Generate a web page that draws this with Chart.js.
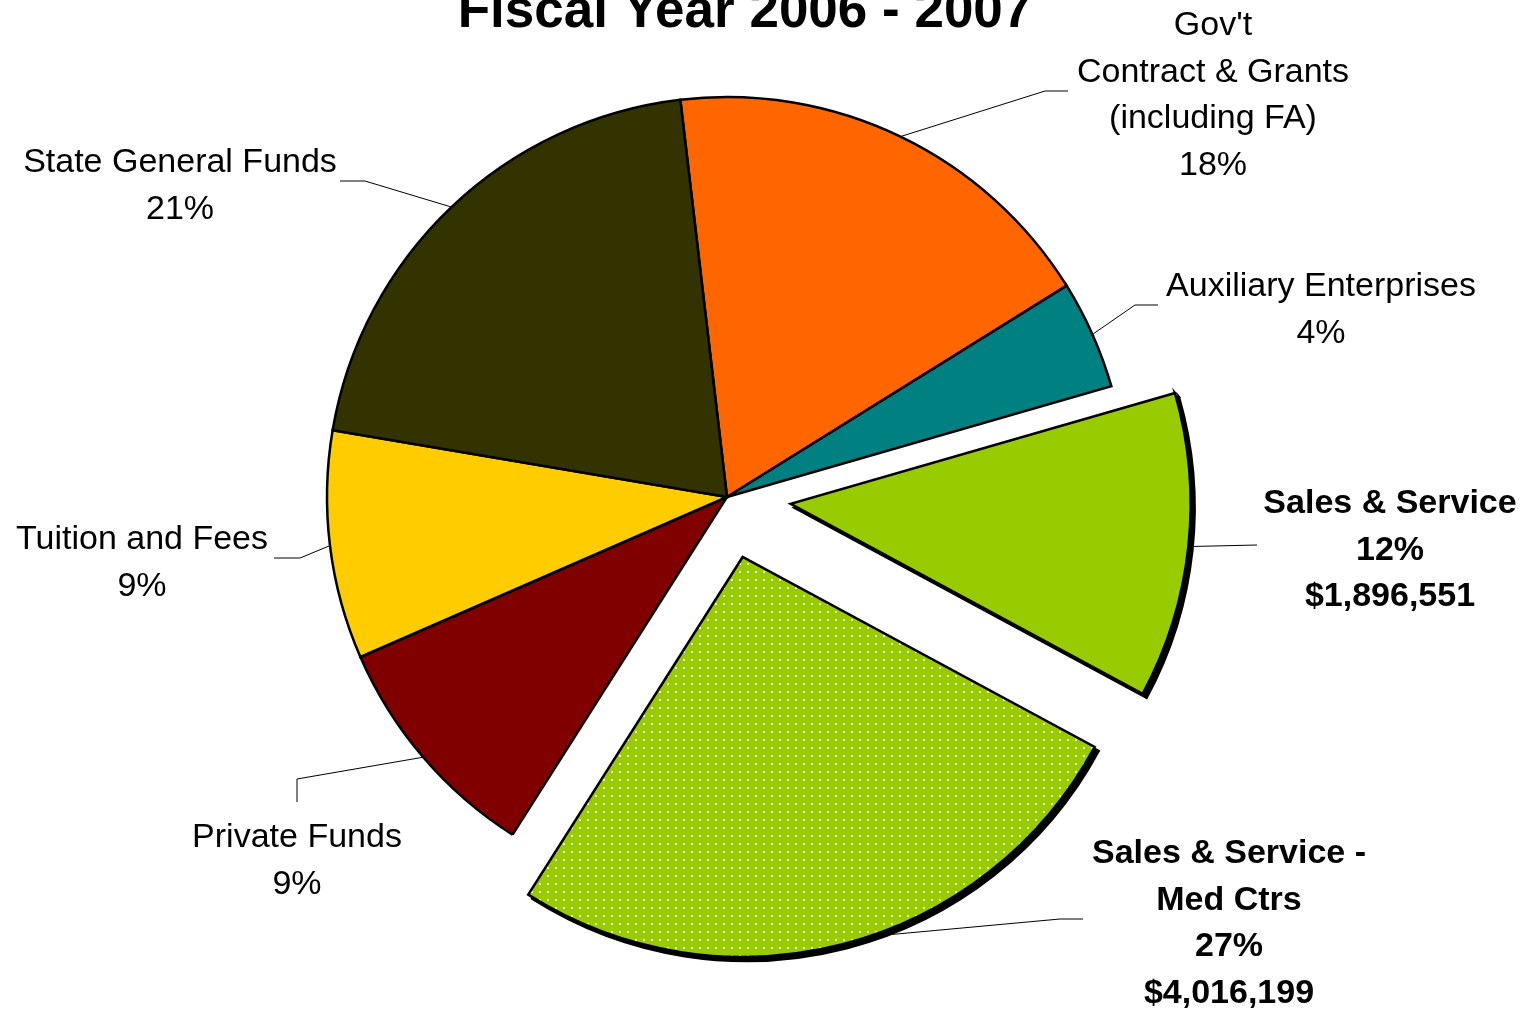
<!DOCTYPE html>
<html>
<head>
<meta charset="utf-8">
<title>Fiscal Year 2006 - 2007</title>
<script src="https://cdn.jsdelivr.net/npm/chart.js@4.4.0/dist/chart.umd.min.js"></script>
<style>
  html, body { margin: 0; padding: 0; background: #ffffff; overflow: hidden; }
  #wrap { position: relative; width: 1532px; height: 1011px; }
</style>
</head>
<body>
<div id="wrap"><canvas id="chart" width="1532" height="1011"></canvas></div>
<script>
// ---- Revenue sources, clockwise from the top ----
const categories = [
  "Gov't Contract & Grants (including FA)",
  "Auxiliary Enterprises",
  "Sales & Service",
  "Sales & Service - Med Ctrs",
  "Private Funds",
  "Tuition and Fees",
  "State General Funds"
];
const labelLines = [
  ["Gov't", "Contract & Grants", "(including FA)"],
  ["Auxiliary Enterprises"],
  ["Sales & Service"],
  ["Sales & Service -", "Med Ctrs"],
  ["Private Funds"],
  ["Tuition and Fees"],
  ["State General Funds"]
];
const percentLabels = ["18%", "4%", "12%", "27%", "9%", "9%", "21%"];
const amountLabels = [null, null, "$1,896,551", "$4,016,199", null, null, null];
const revenue = [2767000, 675000, 1896551, 4016199, 1452000, 1417000, 3146000];
const chartTitle = "Fiscal Year 2006 - 2007";

// ---- Styling ----
const SLICE_COLORS = ["#FF6600", "#008080", "#99CC00", "DOTTED", "#800000", "#FFCC00", "#333300"];
const BOLD_LABEL = [false, false, true, true, false, false, false];
const EXPLODE = [0, 0, 64, 62, 0, 0, 0];   // px pulled out from the centre
const LABEL_POS = [
  { x: 1213, y: 35 }, { x: 1321, y: 296 }, { x: 1390, y: 513 }, { x: 1229, y: 863 },
  { x: 297, y: 847 }, { x: 142, y: 549 }, { x: 180, y: 172 }
];
const LEADERS = [
  { frac: 0.5, elbow: [1045, 91], end: [1068, 91] },
  { frac: 0.5, elbow: [1135, 305], end: [1158, 305] },
  { frac: 0.5, elbow: null, end: [1257, 545] },
  { frac: 0.46, elbow: [1060, 919], end: [1083, 919] },
  { frac: 0.5, elbow: [297, 779], end: [297, 802] },
  { frac: 0.5, elbow: [300, 558], end: [274, 558] },
  { frac: 0.5, elbow: [365, 181], end: [340, 181] }
];
const FONT_FAMILY = '"Liberation Sans", Arial, sans-serif';
const LINE_STEP = 46.5;

// green fill with a fine grid of pale dots
function dottedGreen() {
  const p = document.createElement('canvas');
  p.width = 8; p.height = 8;
  const g = p.getContext('2d');
  g.fillStyle = '#99CC00';
  g.fillRect(0, 0, 8, 8);
  g.fillStyle = 'rgba(245,252,225,0.9)';
  g.fillRect(3, 3, 2, 2);
  g.fillStyle = '#ffffff';
  g.fillRect(3, 3, 1, 1);
  return g.createPattern(p, 'repeat');
}

const ctx = document.getElementById('chart').getContext('2d');
const fills = SLICE_COLORS.map(c => c === 'DOTTED' ? dottedGreen() : c);

// pull the exploded slices away from the centre along their mid angle
const explodePlugin = {
  id: 'explode',
  afterDatasetsUpdate(chart) {
    const meta = chart.getDatasetMeta(0);
    meta.data.forEach((el, i) => {
      const d = EXPLODE[i];
      if (!d) return;
      const mid = (el.startAngle + el.endAngle) / 2;
      el.x += Math.cos(mid) * d;
      el.y += Math.sin(mid) * d;
    });
  },
  beforeDatasetsDraw(chart) {
    // solid drop shadow under the pulled-out slices
    const c = chart.ctx;
    const meta = chart.getDatasetMeta(0);
    meta.data.forEach((el, i) => {
      if (!EXPLODE[i]) return;
      c.save();
      c.translate(4, 4);
      c.filter = 'brightness(0)';
      el.draw(c, chart.chartArea);
      c.restore();
    });
  }
};

const labelPlugin = {
  id: 'sliceLabels',
  afterDatasetsDraw(chart) {
    const c = chart.ctx;
    const meta = chart.getDatasetMeta(0);
    c.save();
    // leader lines
    c.strokeStyle = '#000000';
    c.lineWidth = 1;
    meta.data.forEach((el, i) => {
      const L = LEADERS[i];
      const a = el.startAngle + L.frac * (el.endAngle - el.startAngle);
      const sx = el.x + Math.cos(a) * el.outerRadius;
      const sy = el.y + Math.sin(a) * el.outerRadius;
      c.beginPath();
      c.moveTo(sx, sy);
      if (L.elbow) c.lineTo(L.elbow[0], L.elbow[1]);
      c.lineTo(L.end[0], L.end[1]);
      c.stroke();
    });
    // label text
    c.fillStyle = '#000000';
    c.textAlign = 'center';
    c.textBaseline = 'alphabetic';
    labelLines.forEach((lines, i) => {
      const all = lines.concat([percentLabels[i]]);
      if (amountLabels[i]) all.push(amountLabels[i]);
      c.font = (BOLD_LABEL[i] ? 'bold ' : '') + '34px ' + FONT_FAMILY;
      all.forEach((t, k) => c.fillText(t, LABEL_POS[i].x, LABEL_POS[i].y + k * LINE_STEP));
    });
    // title
    c.font = 'bold 53px ' + FONT_FAMILY;
    c.fillText(chartTitle, 745, 27);
    c.restore();
  }
};

new Chart(ctx, {
  type: 'pie',
  data: {
    labels: categories,
    datasets: [{
      data: revenue,
      backgroundColor: fills,
      borderColor: '#000000',
      borderWidth: 2.5,
      borderJoinStyle: 'miter',
      clip: false
    }]
  },
  options: {
    responsive: false,
    animation: false,
    events: [],
    rotation: -6.7,
    radius: 400,
    layout: { padding: { left: 0, right: 78, top: 0, bottom: 17 } },
    plugins: {
      legend: { display: false },
      title: { display: false },
      tooltip: { enabled: false }
    }
  },
  plugins: [explodePlugin, labelPlugin]
});
</script>
</body>
</html>
